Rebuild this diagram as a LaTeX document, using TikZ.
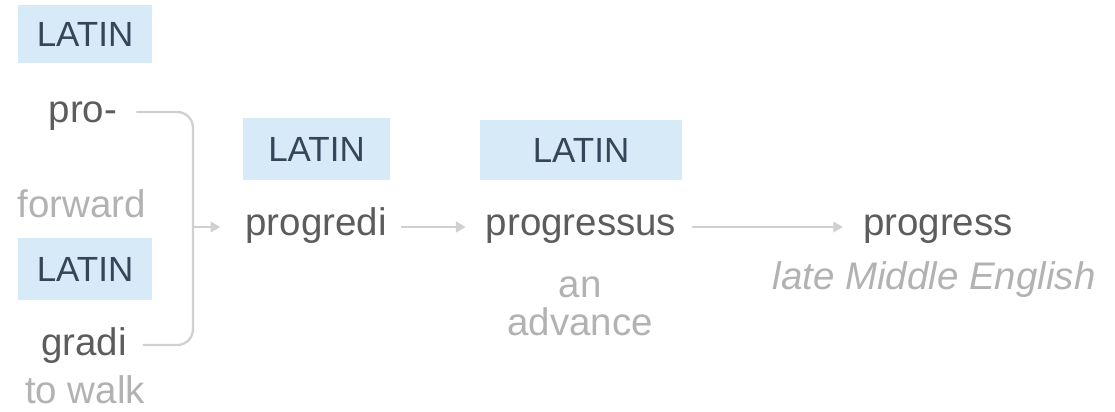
\documentclass[tikz,border=0pt]{standalone}
\usepackage{fontspec}
\setmainfont{Liberation Sans}
\usepackage{tikz}
\usetikzlibrary{arrows.meta, positioning, calc}
\definecolor{tagfill}{RGB}{214,234,248}
\definecolor{tagtext}{RGB}{52,70,88}
\definecolor{wordtext}{RGB}{92,92,92}
\definecolor{glosstext}{RGB}{178,178,178}
\definecolor{linkgray}{RGB}{208,208,208}
\newcommand{\px}{0.02cm}
\tikzset{%
    tagsty/.style={
        fill=tagfill,
        text=tagtext,
        inner sep=0pt,
        minimum height=60*\px,
        font=\fontsize{19.9pt}{24pt}\selectfont,
    },
    wordsty/.style={
        anchor=base,
        text=wordtext,
        font=\fontsize{21.9pt}{26pt}\selectfont,
    },
    glosssty/.style={
        wordsty,
        text=glosstext,
    },
    linksty/.style={
        draw=linkgray,
        line width=1.3pt,
    },
    arrsty/.style={
        linksty,
        -{Triangle[length=5.5pt,width=6pt]},
    },
}
\begin{document}
\begin{tikzpicture}[x=\px,y=-\px]
\useasboundingbox (0,0) rectangle (1115,412);

% tags
\node (tag1) [tagsty,minimum width=134*\px,minimum height=58*\px] at (85,34) {LATIN};
\node (tag2) [tagsty,minimum width=134*\px,minimum height=62*\px] at (85,269) {LATIN};
\node (tag3) [tagsty,minimum width=147*\px,minimum height=62*\px] at (316.5,149) {LATIN};
\node (tag4) [tagsty,minimum width=202*\px] at (581,150) {LATIN};

% words
\node (pro) [wordsty] at (83,122) {pro-};
\node (gradi) [wordsty] at (84,355) {gradi};
\node (progredi) [wordsty] at (316,235) {progredi};
\node (progressus) [wordsty] at (581,235) {progressus};
\node (progress) [wordsty] at (938,235) {progress};

% glosses
\node (forward) [glosssty] at (82,217) {forward};
\node (towalk) [glosssty] at (85,403) {to walk};
\node (an) [glosssty] at (580,297) {an};
\node (advance) [glosssty] at (580,335) {advance};
\node (lme) [glosssty] at (934,289) {\itshape late Middle English};

% links
\coordinate (join) at (193,227);
\draw [linksty,rounded corners=9] ($(pro.base east)+(13,-10)$) -| (join) |- ($(gradi.base east)+(10,-10)$);
\draw [arrsty] (join) -- ($(progredi.base west)+(-19,-8)$);
\draw [arrsty] ($(progredi.base east)+(8,-8)$) -- ($(progressus.base west)+(-14,-8)$);
\draw [arrsty] ($(progressus.base east)+(10,-8)$) -- ($(progress.base west)+(-14,-8)$);

\end{tikzpicture}
\end{document}
